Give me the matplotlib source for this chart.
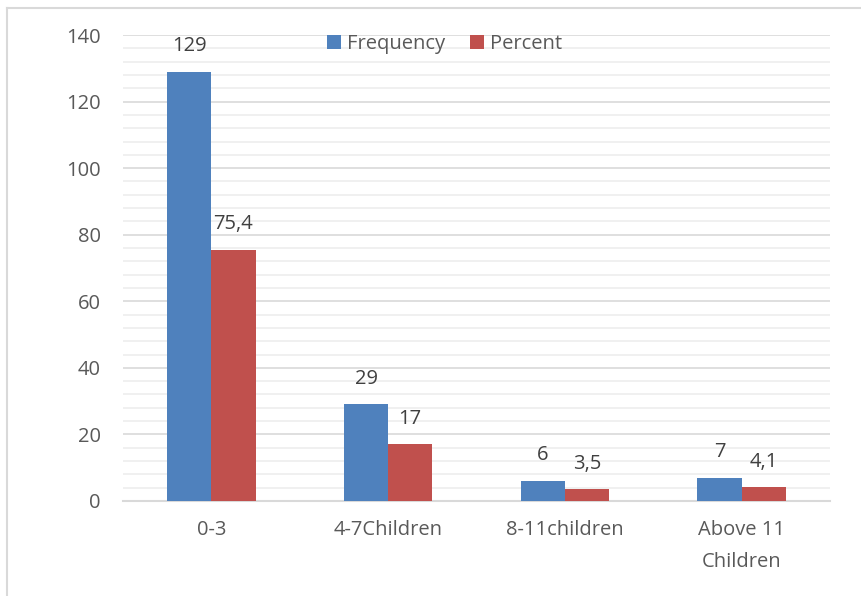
import matplotlib
matplotlib.use("Agg")
import matplotlib.pyplot as plt
from matplotlib.lines import Line2D
import numpy as np

categories = ["0-3", "4-7Children", "8-11children", "Above 11\nChildren"]
frequency = [129, 29, 6, 7]
percent = [75.4, 17, 3.5, 4.1]
series_names = ["Frequency", "Percent"]
yticks = [0, 20, 40, 60, 80, 100, 120, 140]

blue = "#4F81BD"
red = "#C0504D"
text_color = "#595959"
font = "Open Sans"
fs = 14.5

fig = plt.figure(figsize=(8.62, 5.96), dpi=100)
ax = fig.add_axes([123 / 862, 1 - 501 / 596, (830 - 123) / 862, (501 - 35) / 596])

x = np.arange(len(categories))
w = 0.25
b1 = ax.bar(x - w / 2, frequency, w, color=blue, label=series_names[0], zorder=3)
b2 = ax.bar(x + w / 2, percent, w, color=red, label=series_names[1], zorder=3)

def fmt(v):
    s = f"{v:g}"
    return s.replace(".", ",")

for bars, vals in ((b1, frequency), (b2, percent)):
    for rect, v in zip(bars, vals):
        ax.annotate(fmt(v), (rect.get_x() + rect.get_width() / 2, v),
                    xytext=(0, 18.5), textcoords="offset points",
                    ha="center", va="center", fontsize=fs,
                    color="#404040", family=font)

ax.set_xlim(-0.5, len(categories) - 0.5)
ax.set_ylim(0, 140)
ax.set_yticks(yticks)
ax.set_yticks(np.arange(0, 141, 4), minor=True)
ax.grid(axis="y", which="major", color="#d9d9d9", linewidth=1.2, zorder=0)
ax.grid(axis="y", which="minor", color="#f0f0f0", linewidth=1.4, zorder=0)
ax.set_axisbelow(True)

for s in ("top", "right", "left"):
    ax.spines[s].set_visible(False)
ax.spines["bottom"].set_color("#d9d9d9")
ax.spines["bottom"].set_linewidth(1.5)

ax.set_xticks(x)
ax.set_xticklabels(categories, fontsize=fs, color=text_color, family=font,
                   linespacing=1.75)
ax.tick_params(axis="x", length=0, pad=14)
ax.tick_params(axis="y", which="both", length=0, pad=16, labelsize=fs,
               labelcolor=text_color)
for lbl in ax.get_yticklabels():
    lbl.set_family(font)

leg = ax.legend(loc="upper center", bbox_to_anchor=(0.455, 1.04), ncol=2,
                frameon=False, handlelength=0.7, handleheight=0.7,
                handletextpad=0.3, columnspacing=1.2,
                prop={"family": font, "size": fs})
for t in leg.get_texts():
    t.set_color(text_color)

# chart border (top and left edges visible)
fig.add_artist(Line2D([7.5 / 862, 1], [1 - 7.5 / 596, 1 - 7.5 / 596],
                      transform=fig.transFigure, color="#d9d9d9", linewidth=1.5))
fig.add_artist(Line2D([7.5 / 862, 7.5 / 862], [0, 1 - 7.5 / 596],
                      transform=fig.transFigure, color="#d9d9d9", linewidth=1.5))

fig.savefig("out.png", dpi=100)
